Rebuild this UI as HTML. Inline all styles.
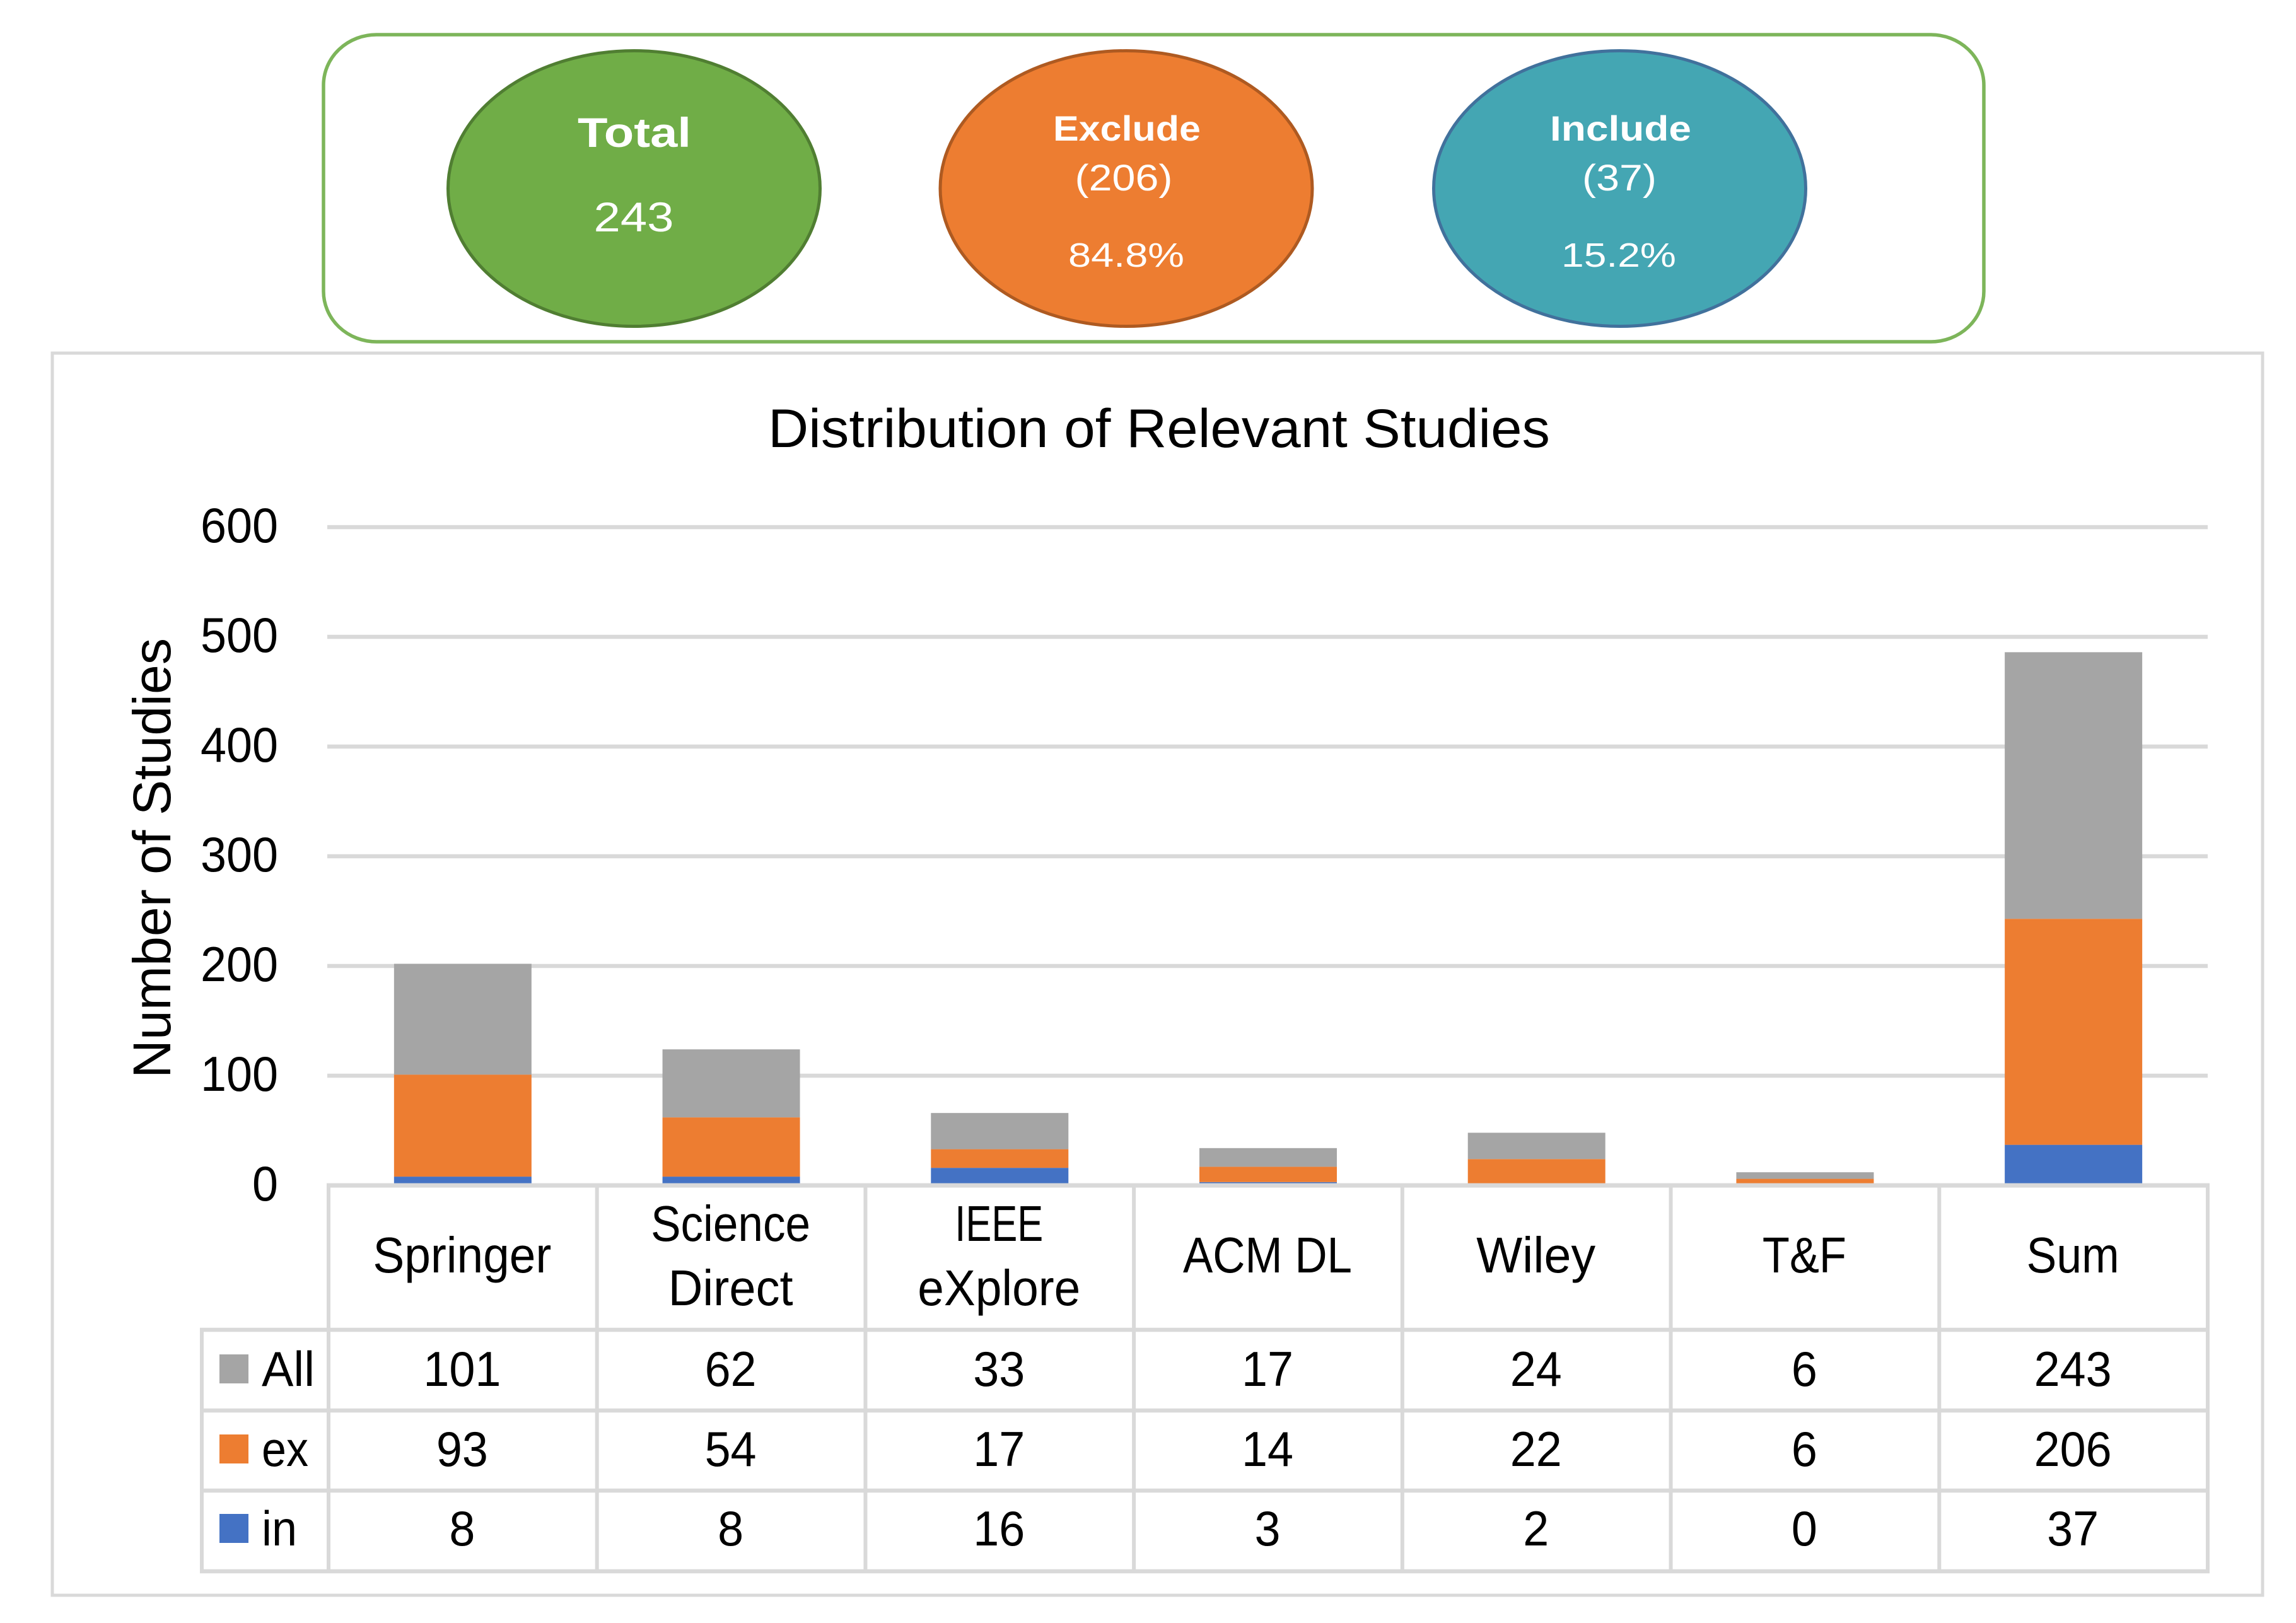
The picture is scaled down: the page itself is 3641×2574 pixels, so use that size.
<!DOCTYPE html>
<html lang="en">
<head>
<meta charset="utf-8">
<title>Distribution of Relevant Studies</title>
<style>
html,body{margin:0;padding:0;background:#fff}
svg{display:block}
text{font-family:"Liberation Sans",Arial,sans-serif}
</style>
</head>
<body>
<svg id="root" xmlns="http://www.w3.org/2000/svg" width="3641" height="2574" viewBox="0 0 3641 2574">
  <rect x="0" y="0" width="3641" height="2574" fill="#ffffff"/>

  <g>
    <rect x="513" y="55" width="2633" height="487" rx="84" ry="80" fill="#ffffff" stroke="#7DB55A" stroke-width="5.5"/>

    <g>
      <ellipse cx="1005.5" cy="299" rx="295" ry="218.5" fill="#70AD47" stroke="#507E32" stroke-width="5"/>
      <text x="1006" y="233" text-anchor="middle" font-size="66" font-weight="700" fill="#ffffff" textLength="180" lengthAdjust="spacingAndGlyphs">Total</text>
      <text x="1005" y="367" text-anchor="middle" font-size="66" fill="#ffffff" textLength="127" lengthAdjust="spacingAndGlyphs">243</text>
    </g>

    <g>
      <ellipse cx="1786" cy="299" rx="295" ry="218.5" fill="#ED7D31" stroke="#AE5A21" stroke-width="5"/>
      <text x="1787" y="223" text-anchor="middle" font-size="56" font-weight="700" fill="#ffffff" textLength="234" lengthAdjust="spacingAndGlyphs">Exclude</text>
      <text x="1782" y="302" text-anchor="middle" font-size="58" fill="#ffffff" textLength="155" lengthAdjust="spacingAndGlyphs">(206)</text>
      <text x="1786" y="423" text-anchor="middle" font-size="54" fill="#ffffff" textLength="184" lengthAdjust="spacingAndGlyphs">84.8%</text>
    </g>

    <g>
      <ellipse cx="2568.5" cy="299" rx="295" ry="218.5" fill="#44A6B3" stroke="#41719C" stroke-width="5"/>
      <text x="2570" y="223" text-anchor="middle" font-size="56" font-weight="700" fill="#ffffff" textLength="224" lengthAdjust="spacingAndGlyphs">Include</text>
      <text x="2568" y="302" text-anchor="middle" font-size="58" fill="#ffffff" textLength="118" lengthAdjust="spacingAndGlyphs">(37)</text>
      <text x="2567" y="423" text-anchor="middle" font-size="54" fill="#ffffff" textLength="182" lengthAdjust="spacingAndGlyphs">15.2%</text>
    </g>
  </g>

  <rect x="83" y="560" width="3505" height="1970" fill="#ffffff" stroke="#D9D9D9" stroke-width="5"/>
  <text x="1838" y="709" text-anchor="middle" font-size="86" fill="#000000" textLength="1240" lengthAdjust="spacingAndGlyphs">Distribution of Relevant Studies</text>
  <text transform="translate(270,1361) rotate(-90)" x="0" y="0" text-anchor="middle" font-size="84" fill="#000000" textLength="698" lengthAdjust="spacingAndGlyphs">Number of Studies</text>

  <g id="grid"></g>
  <g id="ticks"></g>
  <g id="bars"></g>
  <g id="table"></g>
</svg>

<script>
const categories = [['Springer'], ['Science', 'Direct'], ['IEEE', 'eXplore'], ['ACM DL'], ['Wiley'], ['T&F'], ['Sum']];
const seriesAll = [101, 62, 33, 17, 24, 6, 243];
const seriesEx = [93, 54, 17, 14, 22, 6, 206];
const seriesIn = [8, 8, 16, 3, 2, 0, 37];
const yTickValues = [0, 100, 200, 300, 400, 500, 600];

const SVG_NS = 'http://www.w3.org/2000/svg';
const COLORS = {all: '#A5A5A5', ex: '#ED7D31', inc: '#4472C4', line: '#D9D9D9'};
const plot = {left: 521, right: 3501, y0: 1880, unitsPerPx: 1 / 1.74, barWidth: 218};
const colWidth = (plot.right - plot.left) / categories.length;
const rowLines = [2109, 2237, 2364, 2492];
const rowBaselines = [2198, 2325, 2451];
const tableLeft = 320;
const headerFit = {Springer: 283, Science: 253, Direct: 198, IEEE: 140, eXplore: 258, 'ACM DL': 268, Wiley: 189, 'T&F': 133, Sum: 147};
const legendFit = {All: 84, ex: 74, in: 56};

function xBand(i) { return plot.left + colWidth * (i + 0.5); }
function yScale(v) { return plot.y0 - v / plot.unitsPerPx; }

function makeText(parent, name, str, x, y, anchor, size, width) {
  const el = document.createElementNS(SVG_NS, 'text');
  
  
  el.setAttribute('x', x);
  el.setAttribute('y', y);
  el.setAttribute('text-anchor', anchor);
  el.setAttribute('font-size', size);
  el.setAttribute('fill', '#000000');
  el.setAttribute('textLength', width);
  el.setAttribute('lengthAdjust', 'spacingAndGlyphs');
  el.textContent = str;
  parent.appendChild(el);
  return el;
}

function makeLine(parent, name, x1, y1, x2, y2, sw) {
  const el = document.createElementNS(SVG_NS, 'line');
  
  
  el.setAttribute('x1', x1);
  el.setAttribute('y1', y1);
  el.setAttribute('x2', x2);
  el.setAttribute('y2', y2);
  el.setAttribute('stroke', COLORS.line);
  el.setAttribute('stroke-width', sw);
  parent.appendChild(el);
  return el;
}

function makeRect(parent, name, x, y, w, h, fill) {
  const el = document.createElementNS(SVG_NS, 'rect');
  
  
  el.setAttribute('x', x);
  el.setAttribute('y', y);
  el.setAttribute('width', w);
  el.setAttribute('height', h);
  el.setAttribute('fill', fill);
  parent.appendChild(el);
  return el;
}

const gridG = document.getElementById('grid');
const ticksG = document.getElementById('ticks');
const barsG = document.getElementById('bars');
const tableG = document.getElementById('table');

yTickValues.forEach(function (t) {
  if (t > 0) {
    makeLine(gridG, 'gridline-' + t, 519, yScale(t), plot.right, yScale(t), 6.5);
  }
  const s = String(t);
  makeText(ticksG, 'y-tick-' + t, s, 441, yScale(t) + 24, 'end', 78, s.length * 41);
});

categories.forEach(function (c, i) {
  const cx = xBand(i);
  const left = cx - plot.barWidth / 2;
  const inc = seriesIn[i];
  const ex = seriesEx[i];
  const all = seriesAll[i];
  const slug = c.join('-').toLowerCase().replace(/[^a-z-]/g, '');
  makeRect(barsG, 'bar-in-' + slug, left, yScale(inc), plot.barWidth, yScale(0) - yScale(inc), COLORS.inc);
  makeRect(barsG, 'bar-ex-' + slug, left, yScale(inc + ex), plot.barWidth, yScale(inc) - yScale(inc + ex), COLORS.ex);
  makeRect(barsG, 'bar-all-' + slug, left, yScale(inc + ex + all), plot.barWidth, yScale(inc + ex) - yScale(inc + ex + all), COLORS.all);
});

makeLine(tableG, 'x-axis-line', plot.left - 3, plot.y0, plot.right + 3, plot.y0, 7);
rowLines.forEach(function (y, i) {
  makeLine(tableG, 'table-row-line-' + i, tableLeft - 3, y, plot.right + 3, y, 6.5);
});
makeLine(tableG, 'table-left-border', tableLeft, rowLines[0], tableLeft, rowLines[3], 6);
for (let i = 0; i <= categories.length; i++) {
  makeLine(tableG, 'table-column-line-' + i, plot.left + colWidth * i, plot.y0, plot.left + colWidth * i, rowLines[3], 6);
}

categories.forEach(function (c, i) {
  const cx = xBand(i) - 1;
  if (c.length === 1) {
    makeText(tableG, 'category-label-' + i, c[0], cx, 2018, 'middle', 80, headerFit[c[0]]);
  } else {
    makeText(tableG, 'category-label-' + i + '-line-1', c[0], cx, 1968, 'middle', 80, headerFit[c[0]]);
    makeText(tableG, 'category-label-' + i + '-line-2', c[1], cx, 2070, 'middle', 80, headerFit[c[1]]);
  }
});

const tableRows = [
  {label: 'All', color: COLORS.all, values: seriesAll},
  {label: 'ex', color: COLORS.ex, values: seriesEx},
  {label: 'in', color: COLORS.inc, values: seriesIn}
];
tableRows.forEach(function (row, r) {
  const base = rowBaselines[r];
  makeRect(tableG, 'legend-swatch-' + row.label, 348, base - 50, 46, 46, row.color);
  makeText(tableG, 'legend-label-' + row.label, row.label, 415, base, 'start', 78, legendFit[row.label]);
  row.values.forEach(function (v, i) {
    const s = String(v);
    makeText(tableG, 'table-value-' + row.label + '-' + i, s, xBand(i) - 1, base, 'middle', 78, s.length * 41);
  });
});
</script>
</body>
</html>
